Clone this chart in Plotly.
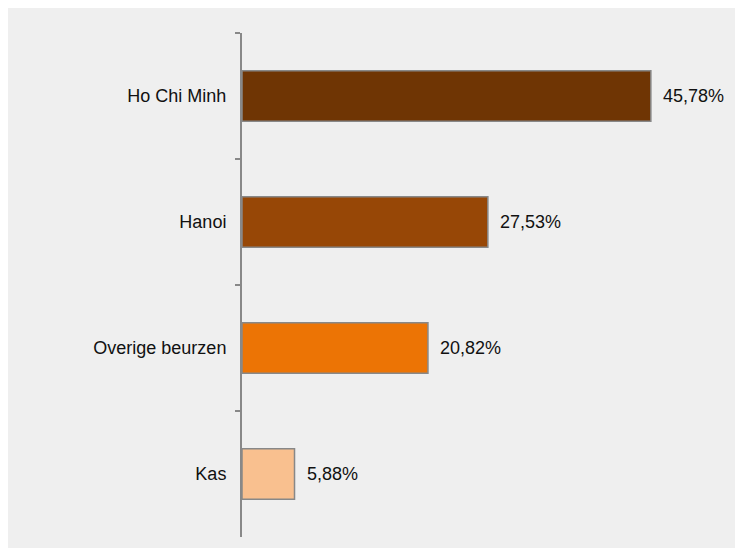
import plotly.graph_objects as go

categories = ["Ho Chi Minh", "Hanoi", "Overige beurzen", "Kas"]
values = [45.78, 27.53, 20.82, 5.88]
labels = ["45,78%", "27,53%", "20,82%", "5,88%"]
colors = ["#6F3504", "#974706", "#EC7405", "#F9C08F"]

BG = "#efefef"
FONT = "Liberation Sans, Arial, sans-serif"

fig = go.Figure()
fig.add_trace(go.Bar(
    x=values, y=categories, orientation="h",
    width=0.4,
    marker=dict(color=colors, line=dict(color="#888888", width=1.5)),
    hoverinfo="skip",
))

for c, v, t in zip(categories, values, labels):
    fig.add_annotation(x=v, y=c, text=t, showarrow=False, xanchor="left",
                       xshift=10, font=dict(size=18, color="#111111", family=FONT))

fig.update_layout(
    width=735, height=540,
    margin=dict(l=234, r=23, t=25, b=11, pad=0),
    paper_bgcolor=BG, plot_bgcolor=BG,
    showlegend=False,
    font=dict(family=FONT, size=18, color="#111111"),
    xaxis=dict(range=[0, 53.52], visible=False, fixedrange=True),
    yaxis=dict(
        autorange=False, range=[3.5, -0.5],
        categoryorder="array", categoryarray=categories,
        showline=True, linecolor="#888888", linewidth=2,
        ticks="outside", tickson="boundaries", ticklen=5, tickwidth=1.5,
        tickcolor="#888888", showgrid=False, zeroline=False,
        ticklabelstandoff=10,
        tickfont=dict(size=18, color="#111111", family=FONT),
    ),
)

fig.write_html("out.html")
